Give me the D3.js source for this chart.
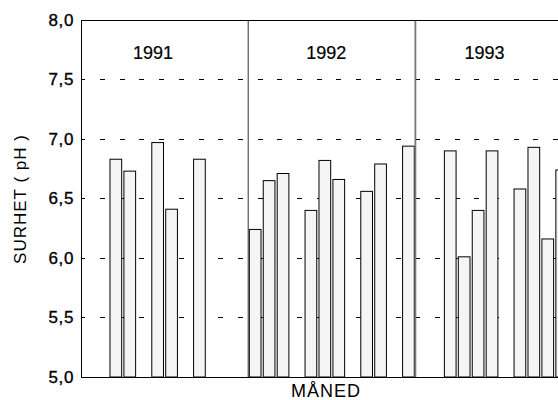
<!DOCTYPE html>
<html>
<head>
<meta charset="utf-8">
<script src="https://cdn.jsdelivr.net/npm/d3@7"></script>
<style>
  html, body { margin: 0; padding: 0; background: #fff; }
  svg { display: block; font-family: "Liberation Sans", Arial, Helvetica, sans-serif; }
</style>
</head>
<body>
<svg id="chart" width="558" height="400"></svg>
<script>
// ---- data ----
const years = ["1991", "1992", "1993"];
const months = ["jan", "feb", "mar", "apr", "mai", "jun", "jul", "aug", "sep", "okt", "nov", "des"];
const ph1991 = [null, null, 6.83, 6.73, null, 6.97, 6.41, null, 6.83, null, null, null];
const ph1992 = [6.24, 6.65, 6.71, null, 6.40, 6.82, 6.66, null, 6.56, 6.79, null, 6.94];
const ph1993 = [null, null, 6.90, 6.01, 6.40, 6.90, null, 6.58, 6.93, 6.16, 6.74, null];
const yTicks = [5.0, 5.5, 6.0, 6.5, 7.0, 7.5, 8.0];
const yTitle = "SURHET ( pH )";
const xTitle = "MÅNED";

const series = [ph1991, ph1992, ph1993];

// ---- layout ----
const svg = d3.select("#chart");
const plotLeft = 81, plotTop = 20, plotBottom = 377;
const panelW = 167.2;
const plotRight = plotLeft + panelW * years.length;

const y = d3.scaleLinear().domain([5, 8]).range([plotBottom, plotTop]);
const xYear = d3.scaleBand().domain(years).range([plotLeft, plotRight]).padding(0);
const xMonth = d3.scaleBand().domain(months).range([0, xYear.bandwidth()])
  .paddingInner(0.16).paddingOuter(0.08);

const fmt = d3.formatLocale({decimal: ",", thousands: " ", grouping: [3], currency: ["", ""]}).format(".1f");

// gridlines (dashed)
svg.append("g").selectAll("line")
  .data(yTicks.filter(d => d > 5 && d < 8))
  .join("line")
  .attr("x1", plotLeft).attr("x2", plotRight)
  .attr("y1", d => y(d)).attr("y2", d => y(d))
  .attr("stroke", "#000").attr("stroke-width", 1)
  .attr("stroke-dasharray", "5,14.7")
  .attr("stroke-dashoffset", -19)
  .attr("shape-rendering", "crispEdges");

// bars
const panels = svg.append("g").selectAll("g.panel")
  .data(years.map((yr, i) => ({year: yr, values: series[i]})))
  .join("g")
  .attr("class", "panel")
  .attr("transform", d => `translate(${xYear(d.year)},0)`);

panels.selectAll("rect")
  .data(d => d.values.map((v, j) => ({month: months[j], v})).filter(e => e.v != null))
  .join("rect")
  .attr("x", d => xMonth(d.month))
  .attr("width", xMonth.bandwidth())
  .attr("y", d => y(d.v))
  .attr("height", d => y(5) - y(d.v))
  .attr("fill", "#f5f5f5")
  .attr("stroke", "#000")
  .attr("stroke-width", 1);

// panel separators
svg.append("g").selectAll("line")
  .data(years.slice(1))
  .join("line")
  .attr("x1", d => xYear(d)).attr("x2", d => xYear(d))
  .attr("y1", plotTop).attr("y2", plotBottom)
  .attr("stroke", (d, i) => i === 0 ? "#333" : "#777")
  .attr("stroke-width", (d, i) => i === 0 ? 1 : 1.8);

// frame
svg.append("path")
  .attr("d", `M${plotLeft},${plotBottom}V${plotTop}H${plotRight + 5}`)
  .attr("fill", "none").attr("stroke", "#000").attr("stroke-width", 1)
  .attr("shape-rendering", "crispEdges");
svg.append("line")
  .attr("x1", plotLeft).attr("x2", plotRight + 5)
  .attr("y1", plotBottom).attr("y2", plotBottom)
  .attr("stroke", "#000").attr("stroke-width", 1)
  .attr("shape-rendering", "crispEdges");

// y axis labels
const yAxis = d3.axisLeft(y).tickValues(yTicks).tickFormat(fmt).tickSize(0).tickPadding(7);
const gy = svg.append("g").attr("transform", `translate(${plotLeft},0)`).call(yAxis);
gy.select(".domain").remove();
gy.selectAll("text")
  .attr("font-size", 17)
  .attr("letter-spacing", "0.6px")
  .attr("fill", "#000")
  .attr("stroke", "#000")
  .attr("stroke-width", 0.35)
  .attr("font-family", "Liberation Sans, Arial, sans-serif");

// year labels
const yearLabelOffset = [72, 78, 69];
svg.append("g").selectAll("text")
  .data(years)
  .join("text")
  .attr("x", (d, i) => xYear(d) + yearLabelOffset[i])
  .attr("y", 59)
  .attr("text-anchor", "middle")
  .attr("font-size", 18)
  .attr("fill", "#000")
  .attr("stroke", "#000")
  .attr("stroke-width", 0.2)
  .text(d => d);

// axis titles
svg.append("text")
  .attr("transform", "translate(26,199) rotate(-90)")
  .attr("text-anchor", "middle")
  .attr("font-size", 17)
  .attr("letter-spacing", "1px")
  .attr("fill", "#000")
  .text(yTitle);

svg.append("text")
  .attr("x", 326)
  .attr("y", 396.5)
  .attr("text-anchor", "middle")
  .attr("font-size", 18)
  .attr("letter-spacing", "1px")
  .attr("fill", "#000")
  .text(xTitle);
</script>
</body>
</html>
